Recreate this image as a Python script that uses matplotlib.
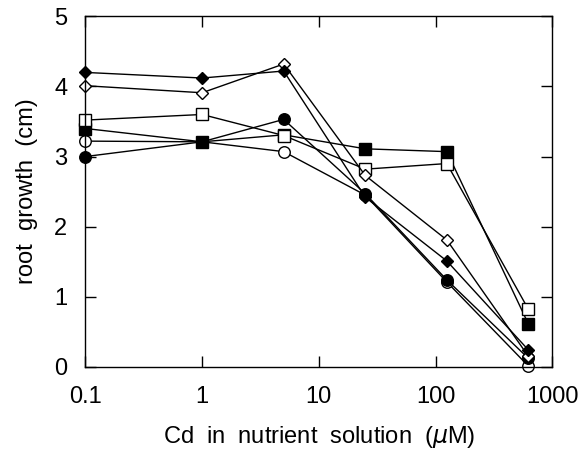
import matplotlib
matplotlib.use("Agg")
import matplotlib.pyplot as plt
from matplotlib.ticker import FixedLocator, NullLocator, FixedFormatter

plt.rcParams['font.family'] = ['Liberation Sans', 'DejaVu Sans']

cd = [0.1, 1, 5, 25, 125, 625]
filled_diamond = [4.20, 4.12, 4.22, 2.42, 1.51, 0.24]
open_diamond = [4.01, 3.91, 4.32, 2.73, 1.81, 0.15]
open_square = [3.52, 3.60, 3.30, 2.82, 2.90, 0.82]
filled_square = [3.40, 3.21, 3.31, 3.11, 3.07, 0.61]
filled_circle = [3.00, 3.21, 3.53, 2.47, 1.24, 0.12]
open_circle = [3.22, 3.21, 3.07, 2.45, 1.21, 0.01]

xticks = [0.1, 1, 10, 100, 1000]
xticklabels = ['0.1', '1', '10', '100', '1000']
yticks = [0, 1, 2, 3, 4, 5]

fig = plt.figure(figsize=(5.85, 4.54), dpi=100)
ax = fig.add_axes([0.146, 0.192, 0.798, 0.772])

series = [
    (open_circle, 'o', 'white', 8.3),
    (filled_circle, 'o', 'black', 8.3),
    (filled_square, 's', 'black', 8.0),
    (open_square, 's', 'white', 8.0),
    (open_diamond, 'D', 'white', 6.5),
    (filled_diamond, 'D', 'black', 6.5),
]
for ys, m, fc, ms in series:
    ax.plot(cd, ys, color='black', lw=1.0, marker=m, markerfacecolor=fc,
            markeredgecolor='black', markeredgewidth=1.0, markersize=ms,
            clip_on=False)

ax.set_xscale('log')
ax.set_xlim(0.1, 1000)
ax.set_ylim(0, 5)
ax.xaxis.set_major_locator(FixedLocator(xticks))
ax.xaxis.set_major_formatter(FixedFormatter(xticklabels))
ax.xaxis.set_minor_locator(NullLocator())
ax.set_yticks(yticks)
ax.set_yticklabels([str(v) for v in yticks])
ax.tick_params(direction='in', length=8, width=1, top=True, right=True,
               labelsize=17)
ax.tick_params(axis='x', pad=14)
ax.tick_params(axis='y', pad=13)
for s in ax.spines.values():
    s.set_linewidth(1.0)

ax.set_xlabel('Cd  in  nutrient  solution  ($\\mu$M)', fontsize=17, labelpad=11)
ax.set_ylabel('root  growth  (cm)', fontsize=17, labelpad=12)

fig.savefig('out.png', dpi=100)
